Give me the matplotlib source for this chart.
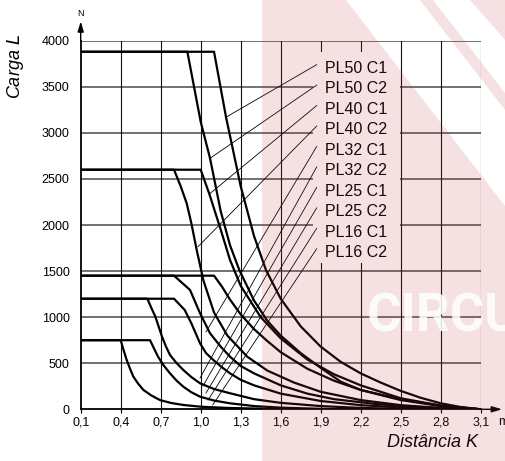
import matplotlib
matplotlib.use('Agg')
import matplotlib.pyplot as plt
from matplotlib.patches import Polygon, Rectangle

plt.rcParams['font.family'] = ['Liberation Sans', 'DejaVu Sans']

# axis ticks
k_ticks = [0.1, 0.4, 0.7, 1.0, 1.3, 1.6, 1.9, 2.2, 2.5, 2.8, 3.1]
k_tick_labels = ['0,1', '0,4', '0,7', '1,0', '1,3', '1,6', '1,9', '2,2', '2,5', '2,8', '3,1']
l_ticks = [0, 500, 1000, 1500, 2000, 2500, 3000, 3500, 4000]

# load curves (distance K in m, load L in N)
pl50_c1_k = [0.1, 1.1, 1.19, 1.3, 1.4, 1.49, 1.6, 1.75, 1.9, 2.05, 2.2, 2.35, 2.5, 2.65, 2.8, 2.95, 3.1]
pl50_c1_l = [3880, 3880, 3170, 2420, 1880, 1510, 1200, 900, 680, 515, 390, 290, 200, 125, 65, 25, 0]
pl50_c2_k = [0.1, 0.9, 0.95, 1.0, 1.07, 1.15, 1.22, 1.29, 1.4, 1.5, 1.6, 1.75, 1.9, 2.05, 2.2, 2.5, 2.8, 3.1]
pl50_c2_l = [3880, 3880, 3500, 3120, 2724, 2150, 1780, 1510, 1180, 960, 800, 610, 450, 300, 210, 100, 35, 0]
pl40_c1_k = [0.1, 1.0, 1.065, 1.15, 1.22, 1.3, 1.45, 1.6, 1.8, 2.0, 2.2, 2.5, 2.8, 3.1]
pl40_c1_l = [2600, 2600, 2336, 1950, 1620, 1340, 1000, 770, 540, 380, 260, 120, 40, 0]
pl40_c2_k = [0.1, 0.8, 0.85, 0.895, 0.93, 0.97, 1.02, 1.1, 1.2, 1.35, 1.5, 1.7, 1.9, 2.2, 2.5, 2.8, 3.1]
pl40_c2_l = [2600, 2600, 2420, 2235, 2018, 1729, 1400, 1050, 800, 570, 420, 290, 190, 100, 45, 15, 0]
pl32_c1_k = [0.1, 1.1, 1.16, 1.22, 1.3, 1.4, 1.5, 1.6, 1.8, 2.0, 2.2, 2.5, 2.8, 3.1]
pl32_c1_l = [1450, 1450, 1330, 1190, 1030, 870, 740, 620, 440, 310, 210, 110, 40, 0]
pl32_c2_k = [0.1, 0.8, 0.92, 0.995, 1.07, 1.15, 1.22, 1.3, 1.4, 1.6, 1.8, 2.0, 2.3, 2.6, 2.9, 3.1]
pl32_c2_l = [1450, 1450, 1295, 1042, 825, 680, 571, 470, 390, 260, 170, 110, 60, 25, 8, 0]
pl25_c1_k = [0.1, 0.8, 0.88, 0.93, 0.995, 1.04, 1.095, 1.16, 1.22, 1.3, 1.4, 1.6, 1.9, 2.2, 2.5, 2.8, 3.1]
pl25_c1_l = [1200, 1200, 1078, 933, 716, 610, 535, 455, 390, 320, 260, 170, 90, 45, 20, 5, 0]
pl25_c2_k = [0.1, 0.6, 0.63, 0.66, 0.71, 0.74, 0.77, 0.82, 0.87, 0.93, 0.995, 1.1, 1.22, 1.4, 1.6, 1.9, 2.2, 2.5, 2.8]
pl25_c2_l = [1200, 1200, 1100, 1005, 788, 680, 589, 500, 426, 350, 282, 220, 174, 110, 70, 35, 15, 5, 0]
pl16_c1_k = [0.1, 0.62, 0.65, 0.68, 0.72, 0.77, 0.82, 0.87, 0.93, 0.995, 1.1, 1.22, 1.4, 1.6, 1.9, 2.2]
pl16_c1_l = [750, 750, 660, 571, 480, 390, 310, 245, 185, 137, 95, 65, 35, 18, 5, 0]
pl16_c2_k = [0.1, 0.4, 0.42, 0.445, 0.47, 0.495, 0.53, 0.57, 0.63, 0.695, 0.78, 0.87, 1.0, 1.2, 1.5, 1.8]
pl16_c2_l = [750, 750, 650, 535, 440, 354, 280, 210, 150, 100, 68, 47, 28, 15, 5, 0]

labels = ['PL50 C1', 'PL50 C2', 'PL40 C1', 'PL40 C2', 'PL32 C1',
          'PL32 C2', 'PL25 C1', 'PL25 C2', 'PL16 C1', 'PL16 C2']
leader_end_k = [1.19, 1.07, 1.065, 0.98, 1.04, 0.995, 1.017, 1.04, 1.055, 1.09]
leader_end_l = [3170, 2724, 2336, 1765, 840, 340, 253, 177, 100, 47]

W, H = 505, 461
fig = plt.figure(figsize=(W / 100, H / 100), dpi=100)
fig.patch.set_facecolor('white')
ax = fig.add_axes([80.7 / W, (H - 409.3) / H, 400 / W, 368.6 / H])

ax.set_xlim(0.1, 3.1)
ax.set_ylim(0, 4000)

# grid
for yv in l_ticks[1:]:
    ax.axhline(yv, color='#4a4a4a', lw=1.1, zorder=1)
for xv in k_ticks[1:]:
    ax.axvline(xv, color='#111111', lw=0.8, zorder=1)

for s in ['top', 'right']:
    ax.spines[s].set_visible(False)
for s in ['left', 'bottom']:
    ax.spines[s].set_linewidth(1.3)
    ax.spines[s].set_zorder(5)

ax.set_xticks(k_ticks)
ax.set_xticklabels(k_tick_labels)
ax.set_yticks(l_ticks)
ax.tick_params(axis='x', length=3, width=0.8, pad=2, labelsize=9)
ax.tick_params(axis='y', length=0, pad=8, labelsize=9)

curves = [
    (pl50_c1_k, pl50_c1_l), (pl50_c2_k, pl50_c2_l),
    (pl40_c1_k, pl40_c1_l), (pl40_c2_k, pl40_c2_l),
    (pl32_c1_k, pl32_c1_l), (pl32_c2_k, pl32_c2_l),
    (pl25_c1_k, pl25_c1_l), (pl25_c2_k, pl25_c2_l),
    (pl16_c1_k, pl16_c1_l), (pl16_c2_k, pl16_c2_l),
]
for k, l in curves:
    ax.plot(k, l, color='black', lw=1.6, solid_joinstyle='round', zorder=4)

# label block with white background
ax.add_patch(Rectangle((1.842, 1588), 0.653, 2289, facecolor='white',
                       edgecolor='none', zorder=2))
for i, name in enumerate(labels):
    ly = 3700 - 222 * i
    ax.text(1.93, ly, name, fontsize=11.5, va='center', ha='left', zorder=6)
    ax.plot([1.87, leader_end_k[i]], [ly + 40, leader_end_l[i]],
            color='black', lw=0.6, zorder=3)

# axis arrows
ax.annotate('', xy=(0.1, 4210), xytext=(0.1, 3990), annotation_clip=False,
            arrowprops=dict(arrowstyle='-|>,head_length=0.6,head_width=0.18',
                            color='black', lw=1.0, shrinkA=0, shrinkB=0))
ax.annotate('', xy=(3.26, 0), xytext=(3.08, 0), annotation_clip=False,
            arrowprops=dict(arrowstyle='-|>,head_length=0.6,head_width=0.18',
                            color='black', lw=1.0, shrinkA=0, shrinkB=0))
fig.text(80 / W, 1 - 13 / H, 'N', fontsize=6.5, ha='center', va='center')
fig.text(498 / W, 1 - 422 / H, 'm', fontsize=9, ha='left', va='center')

fig.text(16 / W, 1 - 67 / H, 'Carga $\\mathit{L}$', fontsize=13, style='italic',
         rotation=90, ha='center', va='center')
fig.text(478 / W, 1 - 442 / H, 'Distância K', fontsize=13, style='italic',
         ha='right', va='center')

# pink watermark overlay
pink = dict(facecolor=(0.737, 0.188, 0.243), alpha=0.15, edgecolor='none',
            transform=fig.transFigure, zorder=20)
def fp(pts):
    return [(x / W, 1 - y / H) for x, y in pts]
fig.patches.append(Polygon(fp([(262, 0), (346, 0), (505, 206), (505, 461), (262, 461)]), **pink))
fig.patches.append(Polygon(fp([(420, 0), (433, 0), (505, 93), (505, 110)]), **pink))
fig.patches.append(Polygon(fp([(470, 0), (505, 0), (505, 40)]), **pink))
fig.text(367 / W, 1 - 331 / H, 'CIRCU', fontsize=38, fontweight='bold',
         family='Roboto', color='white', alpha=0.85, ha='left', va='baseline',
         zorder=21)

fig.savefig('out.png', dpi=100)
